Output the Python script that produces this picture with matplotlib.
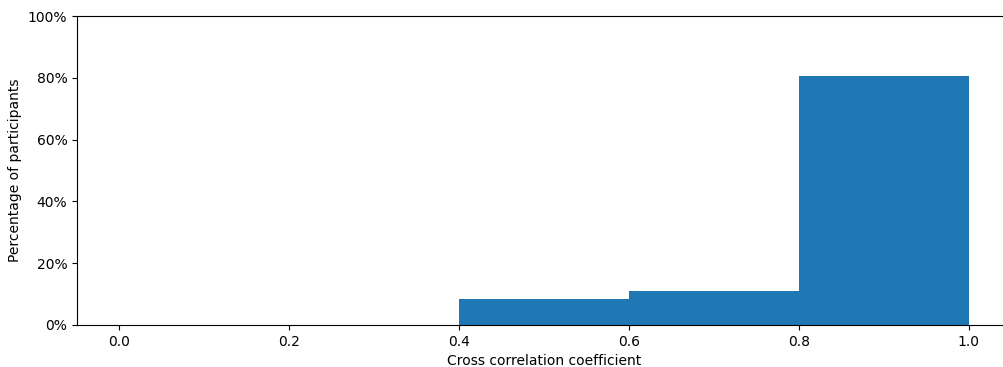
import matplotlib
matplotlib.use('Agg')
import matplotlib.pyplot as plt
from matplotlib.ticker import PercentFormatter

# histogram of cross correlation coefficients, 36 participants
bin_edges = [0.0, 0.2, 0.4, 0.6, 0.8, 1.0]
counts = [0, 0, 3, 4, 29]
n_participants = 36

shares = [c / n_participants for c in counts]

fig = plt.figure(figsize=(10.04, 3.67), dpi=100)
ax = fig.add_axes([77 / 1004, 1 - 325 / 367, (1011 - 77) / 1004, (325 - 16) / 367])
ax.bar(bin_edges[:-1], shares, width=0.2, align='edge', color='#1f77b4')
ax.set_xlim(-0.05, 1.05)
ax.set_ylim(0, 1)
ax.set_xticks([0.0, 0.2, 0.4, 0.6, 0.8, 1.0])
ax.yaxis.set_major_formatter(PercentFormatter(1.0, decimals=0))
ax.set_xlabel('Cross correlation coefficient')
ax.set_ylabel('Percentage of participants')
fig.savefig('out.png', dpi=100)
